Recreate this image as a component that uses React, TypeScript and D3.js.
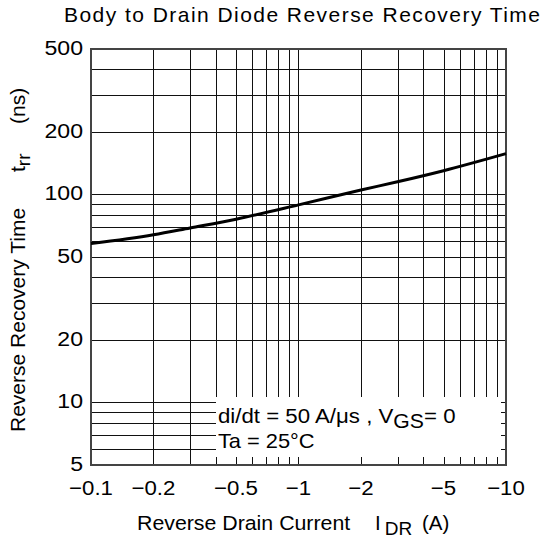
import { useRef, useEffect } from "react";
import * as d3 from "d3";

// reverse drain current (A, shown as negative) vs recovery time (ns)
const currents = [0.1, 0.2, 0.3, 0.5, 1, 2, 3, 5, 10];
const recoveryTimes = [58, 64, 69, 76, 89, 105, 115, 130, 157];
const xTickValues = [0.1, 0.2, 0.5, 1, 2, 5, 10];
const xTickLabels = ["\u22120.1", "\u22120.2", "\u22120.5", "\u22121", "\u22122", "\u22125", "\u221210"];
const yTickValues = [5, 10, 20, 50, 100, 200, 500];
const yTickLabels = ["5", "10", "20", "50", "100", "200", "500"];

const W = 546;
const H = 541;
const FONT = "'Liberation Sans', Arial, sans-serif";

function App() {
  const ref = useRef<SVGSVGElement | null>(null);

  useEffect(() => {
    if (!ref.current) return;
    const svg = d3.select(ref.current).html("");

    const left = 91, right = 506, top = 49, bottom = 465;
    const x = d3.scaleLog().domain([0.1, 10]).range([left, right]);
    const y = d3.scaleLog().domain([5, 500]).range([bottom, top]);

    const xGrid = d3.range(1, 10).map((d) => d / 10).concat(d3.range(1, 11));
    const yGrid = d3.range(5, 10).concat(d3.range(10, 100, 10), d3.range(100, 501, 100));

    // annotation box
    const box = { x0: x(0.4), x1: right - 5, y0: y(10) - 5, y1: bottom - 8 };
    const inBoxX = (v: number) => v >= 0.4 && v < 10;
    const inBoxY = (v: number) => v >= 5 && v <= 10;

    const g = svg.append("g").attr("shape-rendering", "crispEdges");

    // vertical grid
    xGrid.forEach((v) => {
      if (v === 0.1 || v === 10) return;
      const px = Math.round(x(v)) + 0.5;
      g.append("line")
        .attr("x1", px).attr("x2", px)
        .attr("y1", top)
        .attr("y2", inBoxX(v) ? box.y0 : bottom)
        .attr("stroke", "#111").attr("stroke-width", 1);
      if (inBoxX(v)) {
        g.append("line")
          .attr("x1", px).attr("x2", px)
          .attr("y1", box.y1).attr("y2", bottom)
          .attr("stroke", "#111").attr("stroke-width", 1);
      }
    });

    // horizontal grid
    yGrid.forEach((v) => {
      if (v === 5 || v === 500) return;
      const py = Math.round(y(v)) + 0.5;
      g.append("line")
        .attr("x1", left)
        .attr("x2", inBoxY(v) ? box.x0 : right)
        .attr("y1", py).attr("y2", py)
        .attr("stroke", "#111").attr("stroke-width", 1);
      if (inBoxY(v)) {
        g.append("line")
          .attr("x1", box.x1).attr("x2", right)
          .attr("y1", py).attr("y2", py)
          .attr("stroke", "#111").attr("stroke-width", 1);
      }
    });

    // frame
    g.append("rect")
      .attr("x", left).attr("y", top)
      .attr("width", right - left).attr("height", bottom - top)
      .attr("fill", "none").attr("stroke", "#444").attr("stroke-width", 1.6);

    // curve
    const line = d3
      .line<number>()
      .curve(d3.curveMonotoneX)
      .x((d, i) => x(currents[i]))
      .y((d) => y(d));
    svg.append("path")
      .datum(recoveryTimes)
      .attr("fill", "none")
      .attr("stroke", "#000")
      .attr("stroke-width", 3)
      .attr("d", line);

    const txt = svg.append("g").attr("font-family", FONT).attr("fill", "#000");

    // annotation text
    const a1 = txt.append("text")
      .attr("transform", `translate(${box.x0 + 2},423) scale(1.06,1)`)
      .attr("font-size", 21);
    a1.append("tspan").text("di/dt = 50 A/\u03bcs , V");
    a1.append("tspan").attr("dy", 5).attr("font-size", 20).text("GS");
    a1.append("tspan").attr("dy", -5).text("= 0");
    txt.append("text")
      .attr("transform", `translate(${box.x0 + 2},448) scale(1.04,1)`)
      .attr("font-size", 21).text("Ta = 25\u00b0C");

    // x tick labels
    xTickValues.forEach((v, i) => {
      txt.append("text")
        .attr("transform", `translate(${x(v)},495) scale(1.06,1)`)
        .attr("text-anchor", "middle").attr("font-size", 21)
        .text(xTickLabels[i]);
    });
    // y tick labels
    yTickValues.forEach((v, i) => {
      txt.append("text")
        .attr("transform", `translate(83,${y(v) + 6}) scale(1.1,1)`)
        .attr("text-anchor", "end").attr("font-size", 21)
        .text(yTickLabels[i]);
    });

    // title
    txt.append("text")
      .attr("x", 64).attr("y", 22)
      .attr("font-size", 21)
      .attr("textLength", 476)
      .attr("lengthAdjust", "spacing")
      .text("Body to Drain Diode Reverse Recovery Time");

    // x axis title
    txt.append("text")
      .attr("transform", "translate(137,530) scale(1.04,1)")
      .attr("font-size", 20.5)
      .text("Reverse Drain Current");
    const xs = txt.append("text").attr("x", 375).attr("y", 530).attr("font-size", 20.5);
    xs.append("tspan").text("I");
    xs.append("tspan").attr("dx", 4).attr("dy", 5).attr("font-size", 19).text("DR");
    txt.append("text").attr("x", 422).attr("y", 530).attr("font-size", 20.5).text("(A)");

    // y axis title
    const yt = txt.append("g").attr("transform", "translate(25,432) rotate(-90)");
    yt.append("text").attr("x", 0).attr("y", 0).attr("font-size", 21)
      .text("Reverse Recovery Time");
    const ys = yt.append("text").attr("x", 260).attr("y", 0).attr("font-size", 21);
    ys.append("tspan").text("t");
    ys.append("tspan").attr("dy", 5).attr("font-size", 19).text("rr");
    yt.append("text").attr("x", 308).attr("y", 0).attr("font-size", 21).text("(ns)");
  }, []);

  return (
    <svg
      ref={ref}
      width={W}
      height={H}
      style={{ position: "absolute", left: 0, top: 0, display: "block" }}
    ></svg>
  );
}

export default App;
